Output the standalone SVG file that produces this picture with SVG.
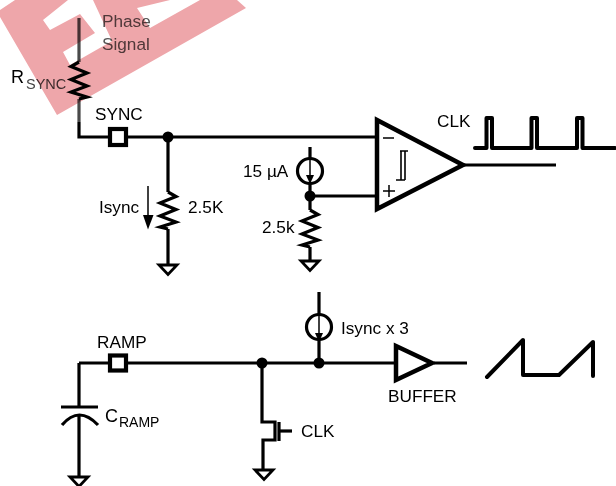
<svg xmlns="http://www.w3.org/2000/svg" width="616" height="486" viewBox="0 0 616 486">
<style>
text{font-family:"Liberation Sans",Arial,sans-serif;font-size:17.2px;fill:#000}
.w{fill:none;stroke:#000;stroke-width:3.2}
.t{fill:none;stroke:#000;stroke-width:4;stroke-linejoin:round;stroke-linecap:round}
.p{fill:#fff;stroke:#000;stroke-width:4.2}
.d{fill:#000}
.g{fill:none;stroke:#000;stroke-width:2.8}
.th{fill:none;stroke:#000;stroke-width:1.5}
.sub{font-size:14.5px}
.gy{fill:#555}
</style>
<defs>
<g id="gnd"><path class="g" d="M-9 0H9L0 9.5Z"/></g>
<path id="res" d="M0 0L8 4.5L-8 11L8 17.5L-8 24L8 30L-8 35L0 37" fill="none" stroke="#000" stroke-width="3.2"/>
</defs>
<g id="connectors">
<path d="M79 18V62M79 99V122" fill="none" stroke="#4a4a4a" stroke-width="3.2"/>
<path class="w" d="M79 122V137H108"/>
<path class="w" d="M128 137H376"/>
<path class="w" d="M168 137V192M168 229V266"/>
<path class="w" d="M310 147V158M310 184V210M310 247V262"/>
<path class="w" d="M310 196H376"/>
<path d="M464 165H556" fill="none" stroke="#000" stroke-width="2.8"/>
<path class="w" d="M79 363H108M127 363H394M434 363H467"/>
<path class="w" d="M79 363V407M79 415V478"/>
<path class="w" d="M262 363V422H275V440H263V470"/>
<path class="w" d="M319 292V315M319 340V363"/>
<path class="w" d="M279 431H292"/>
<path class="th" d="M148 186V216"/>
</g>
<g id="rsync"><use href="#res" transform="translate(79 62) scale(-1 1)"/><text x="11" y="83" style="font-size:18px">R</text><text class="sub" x="26" y="89" style="fill:#444">SYNC</text></g>
<g id="phase-signal"><text class="gy" x="102" y="27">Phase</text><text class="gy" x="102" y="50">Signal</text></g>
<g id="sync-pin"><rect class="p" x="110" y="129" width="16" height="16"/><text x="95" y="120">SYNC</text></g>
<g id="node-a"><circle class="d" cx="168" cy="137" r="5.5"/></g>
<g id="r-25K"><use href="#res" x="168" y="192"/><text x="188" y="213">2.5K</text></g>
<g id="isync"><text x="99" y="213">Isync</text><path class="d" d="M143 215H153.500L148 229.500Z"/></g>
<use href="#gnd" x="168" y="265"/>
<g id="source-15"><circle cx="310" cy="171" r="12.500" fill="none" stroke="#000" stroke-width="3.200"/><path class="th" d="M310 158V176"/><path class="d" d="M306 175H314L310 184Z"/><text x="243" y="177">15 µA</text></g>
<g id="node-b"><circle class="d" cx="310" cy="196" r="5.500"/></g>
<g id="r-25k"><use href="#res" x="310" y="210"/><text x="262" y="233">2.5k</text></g>
<use href="#gnd" x="310" y="261"/>
<g id="comparator"><path d="M377 120L463 165L377 209Z" fill="#fff" stroke="#000" stroke-width="4.500"/><path class="th" d="M383 138H394M383 191H395M389 185V197"/><path d="M400 151H408M401 151V180M405 151V180M396 180H405" fill="none" stroke="#000" stroke-width="1.600"/></g>
<g id="clk-wave"><text x="437" y="127">CLK</text><path class="t" d="M475 148H486.500V118H492V148H531.500V118H537V148H577V118H582.500V148H615"/></g>
<g id="ramp-pin"><rect class="p" x="110" y="355.500" width="16" height="15"/><text x="97" y="348">RAMP</text></g>
<g id="cramp"><path d="M61 407H98" stroke="#000" stroke-width="3.200"/><path d="M62 425Q79 405 98 425" fill="none" stroke="#000" stroke-width="3.200"/><text x="105" y="422" style="font-size:18px">C</text><text x="119" y="427" style="font-size:14px">RAMP</text></g>
<use href="#gnd" x="79" y="477"/>
<g id="node-c"><circle class="d" cx="262" cy="363" r="5.500"/></g>
<g id="node-d"><circle class="d" cx="319" cy="363" r="5.500"/></g>
<g id="mosfet"><path d="M279 422V441" stroke="#000" stroke-width="3.200" fill="none"/><text x="301" y="437">CLK</text></g>
<use href="#gnd" x="264" y="470"/>
<g id="source-3"><circle cx="319" cy="327" r="12.500" fill="none" stroke="#000" stroke-width="3.200"/><path class="th" d="M319 315V334"/><path class="d" d="M315 333H323L319 342Z"/><text x="341" y="334">Isync x 3</text></g>
<g id="buffer"><path d="M396 346L432 363L396 380Z" fill="#fff" stroke="#000" stroke-width="4.500"/><text x="388" y="402">BUFFER</text></g>
<g id="ramp-wave"><path class="t" d="M487 377L523 340V375H559L593 342V376"/></g>
<g id="watermark" style="mix-blend-mode:multiply">
<path fill-rule="evenodd" fill="#eea6aa" d="M0 10L15 0H237L246 8L57 115L0 17ZM43 20L50 30L80 14L95 33L63 52L70 65L112 41L93 0H68ZM137 8L150 28L200 0H170Z"/>
</g>
</svg>
